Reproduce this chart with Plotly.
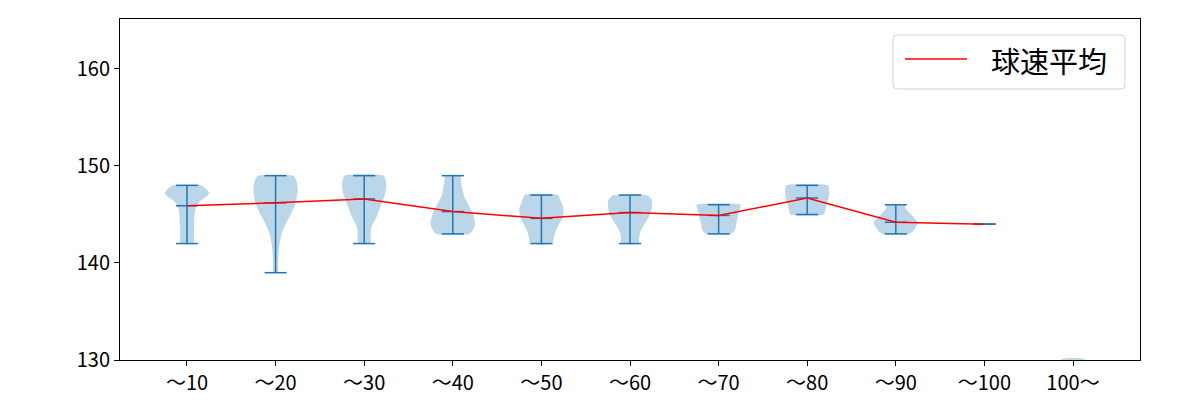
import plotly.graph_objects as go

# ---- data ----
categories = ["～10", "～20", "～30", "～40", "～50", "～60", "～70", "～80", "～90", "～100", "100～"]
mean_speed = [145.9, 146.2, 146.6, 145.3, 144.6, 145.2, 144.9, 146.7, 144.2, 144.0]
min_speed = [142, 139, 142, 143, 142, 142, 143, 145, 143, 144]
max_speed = [148, 149, 149, 149, 147, 147, 146, 148, 146, 144]

# violin profiles: speed levels and relative density (1 = widest)
prof1_speed = [142, 143, 144, 145, 145.6, 146.0, 146.4, 146.8, 147.2, 147.6, 148.0]
prof1_dens = [0.30, 0.31, 0.32, 0.34, 0.38, 0.45, 0.60, 0.85, 1.00, 0.88, 0.65]
prof2_speed = [139, 140, 141, 142, 143, 144, 145, 146, 147, 147.6, 148.2, 148.7, 149]
prof2_dens = [0.10, 0.11, 0.13, 0.18, 0.27, 0.45, 0.68, 0.88, 0.98, 1.00, 0.97, 0.90, 0.80]
prof3_speed = [142, 143, 143.7, 144.2, 144.7, 145.5, 146.2, 147, 147.8, 148.5, 149]
prof3_dens = [0.28, 0.29, 0.33, 0.43, 0.55, 0.68, 0.80, 0.93, 1.00, 0.97, 0.88]
prof4_speed = [143, 143.3, 143.7, 144.1, 144.6, 145.2, 145.8, 146.2, 146.8, 147.5, 148.3, 149]
prof4_dens = [0.75, 0.88, 0.97, 1.00, 0.97, 0.88, 0.75, 0.66, 0.52, 0.45, 0.38, 0.35]
prof5_speed = [142, 142.7, 143.4, 144, 144.7, 145.3, 145.8, 146.4, 147]
prof5_dens = [0.50, 0.57, 0.66, 0.80, 0.95, 1.00, 0.98, 0.87, 0.75]
prof6_speed = [142, 142.5, 143.1, 143.6, 144.1, 144.8, 145.5, 146, 146.5, 146.8, 147]
prof6_dens = [0.40, 0.41, 0.45, 0.55, 0.68, 0.86, 0.97, 1.00, 0.98, 0.88, 0.75]
prof7_speed = [143, 143.2, 143.5, 144, 144.5, 145, 145.5, 146]
prof7_dens = [0.55, 0.68, 0.75, 0.80, 0.85, 0.88, 0.95, 1.00]
prof8_speed = [145, 145.5, 146.2, 146.7, 147.2, 147.6, 148]
prof8_dens = [0.75, 0.82, 0.90, 0.96, 1.00, 0.98, 0.95]
prof9_speed = [143, 143.3, 143.6, 144, 144.2, 144.6, 145.2, 145.6, 146]
prof9_dens = [0.60, 0.78, 0.88, 0.97, 1.00, 0.85, 0.60, 0.45, 0.38]
prof11_speed = [129.0, 130.06]
prof11_dens = [0.52, 0.52]

profiles = {
    1: (prof1_speed, prof1_dens), 2: (prof2_speed, prof2_dens),
    3: (prof3_speed, prof3_dens), 4: (prof4_speed, prof4_dens),
    5: (prof5_speed, prof5_dens), 6: (prof6_speed, prof6_dens),
    7: (prof7_speed, prof7_dens), 8: (prof8_speed, prof8_dens),
    9: (prof9_speed, prof9_dens), 11: (prof11_speed, prof11_dens),
}

BLUE = "#1f77b4"
FILL = "rgba(31,119,180,0.3)"
HALF = 0.25   # max half-width of violin (x units)
CAP = 0.125   # half-width of caps
FONT = "Noto Sans CJK JP"

fig = go.Figure()

# violin bodies
for pos, (sp, de) in profiles.items():
    xs = [pos + HALF * d for d in de] + [pos - HALF * d for d in reversed(de)]
    ys = list(sp) + list(reversed(sp))
    xs.append(xs[0]); ys.append(ys[0])
    fig.add_trace(go.Scatter(
        x=xs, y=ys, mode="lines", fill="toself", fillcolor=FILL,
        line=dict(width=0, shape="spline", smoothing=0.6),
        hoverinfo="skip", showlegend=False))

# stems and caps
sx, sy = [], []
for i in range(len(mean_speed)):
    pos = i + 1
    sx += [pos, pos, None]
    sy += [min_speed[i], max_speed[i], None]
    for v in (min_speed[i], max_speed[i], mean_speed[i]):
        sx += [pos - CAP, pos + CAP, None]
        sy += [v, v, None]
fig.add_trace(go.Scatter(x=sx, y=sy, mode="lines",
                         line=dict(color=BLUE, width=1.5),
                         hoverinfo="skip", showlegend=False))

# mean line
fig.add_trace(go.Scatter(x=list(range(1, len(mean_speed) + 1)), y=mean_speed,
                         mode="lines", line=dict(color="red", width=1.5),
                         name="球速平均", showlegend=False))

# legend drawn manually (paper coords)
L, R, T, B = 120, 1140, 19, 360
def px(xp): return (xp - L) / (R - L)
def py(yp): return (B - yp) / (B - T)

x0, x1, y0, y1 = px(893), px(1125), py(89), py(35)
rx, ry = 4 / (R - L), 4 / (B - T)
path = (f"M {x0+rx},{y0} L {x1-rx},{y0} Q {x1},{y0} {x1},{y0+ry} "
        f"L {x1},{y1-ry} Q {x1},{y1} {x1-rx},{y1} L {x0+rx},{y1} "
        f"Q {x0},{y1} {x0},{y1-ry} L {x0},{y0+ry} Q {x0},{y0} {x0+rx},{y0} Z")
fig.add_shape(type="path", xref="paper", yref="paper", path=path,
              line=dict(color="#d3d3d3", width=1), fillcolor="rgba(255,255,255,0.8)")
fig.add_shape(type="line", xref="paper", yref="paper",
              x0=px(905), x1=px(967), y0=py(59), y1=py(59),
              line=dict(color="red", width=1.5))
fig.add_annotation(xref="paper", yref="paper", x=px(989), y=py(60),
                   xanchor="left", yanchor="middle", showarrow=False,
                   text="球速平均", font=dict(family=FONT, size=29, color="black"))

fig.update_layout(
    width=1200, height=400,
    margin=dict(l=L, r=1200 - R, t=T, b=400 - B, autoexpand=False),
    paper_bgcolor="white", plot_bgcolor="white",
    font=dict(family=FONT, size=20, color="black"),
    showlegend=False,
)
fig.update_xaxes(
    range=[0.244, 11.756], tickmode="array",
    tickvals=list(range(1, len(categories) + 1)), ticktext=categories,
    showgrid=False, zeroline=False, showline=True, linecolor="black",
    linewidth=1, mirror=True, ticks="outside", ticklen=5, tickcolor="black",
    automargin=False,
)
fig.update_yaxes(
    range=[130, 165.15], tickvals=[130, 140, 150, 160],
    showgrid=False, zeroline=False, showline=True, linecolor="black",
    linewidth=1, mirror=True, ticks="outside", ticklen=5, tickcolor="black",
    automargin=False,
)

fig.write_html("out.html")
